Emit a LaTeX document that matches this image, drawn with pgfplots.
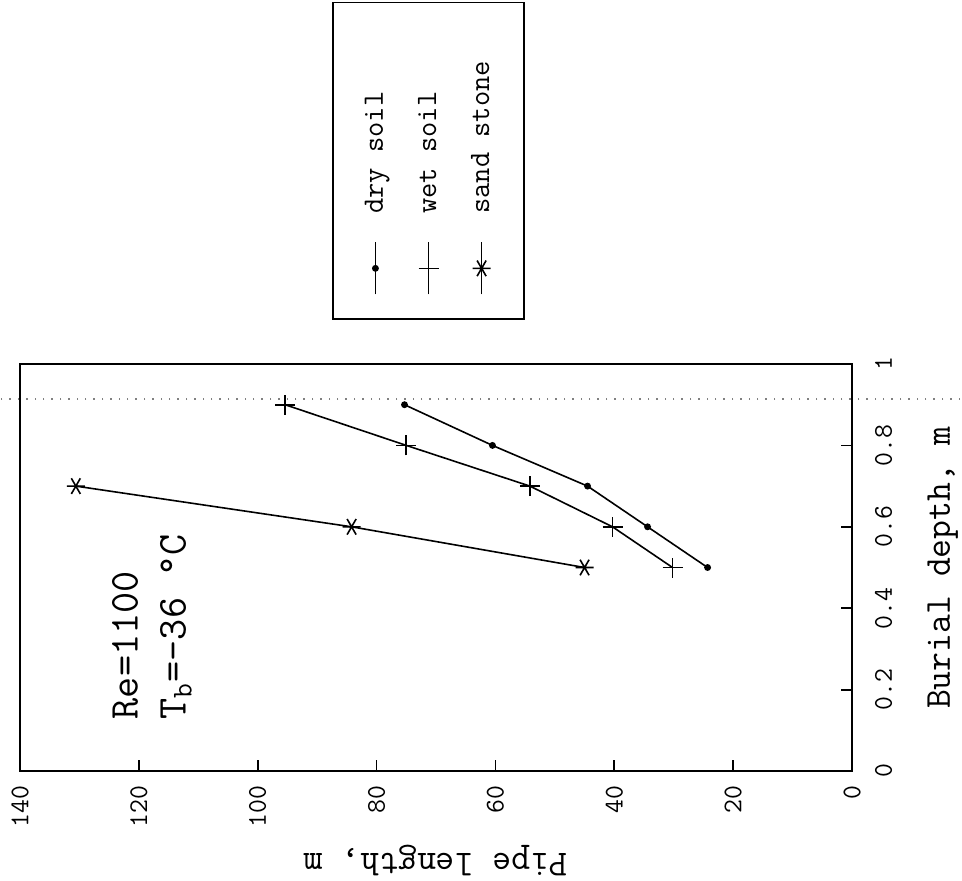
\documentclass[border=0pt]{standalone}
\usepackage{graphicx}
\usepackage{pgfplots}
\pgfplotsset{compat=1.18}
\usepackage{fontspec}
\renewcommand{\familydefault}{\ttdefault}

\begin{document}
\rotatebox{90}{%
\begin{tikzpicture}
% page frame (the figure is drawn upright, then turned a quarter turn)
\useasboundingbox (-54.5pt,-55pt) rectangle (385.5pt,426pt);
\begin{axis}[
  scale only axis, width=203.5pt, height=416pt,
  xmin=0, xmax=1, ymin=0, ymax=140,
  xtick={0,0.2,0.4,0.6,0.8,1}, xticklabels={0,0.2,0.4,0.6,0.8,1},
  ytick={0,20,...,140},
  /pgf/number format/assume math mode=true,
  tick align=inside, xtick pos=bottom, ytick pos=left,
  major tick length=5.5pt,
  axis line style={line width=1.1pt},
  every tick/.style={black, line width=0.9pt},
  tick label style={font=\ttfamily\fontsize{13.5}{15}\selectfont},
  xticklabel style={yshift=-8pt},
  yticklabel style={xshift=-4pt},
  xlabel={Burial depth, m}, ylabel={Pipe length, m},
  label style={font=\ttfamily\fontsize{18.3}{20}\selectfont},
  xlabel style={at={(axis description cs:0.5,-0.109)}, anchor=center},
  ylabel style={at={(axis description cs:-0.219,0.5)}, anchor=center},
  clip=false,
  legend cell align=left,
  legend style={draw=black, line width=0.9pt, fill=white,
    at={(1.108,0.625)}, anchor=north west,
    inner xsep=12pt, inner ysep=14pt, row sep=12pt,
    nodes={inner sep=2pt}, font=\ttfamily\fontsize{14.8}{16}\selectfont,
    /tikz/every odd column/.append style={column sep=12pt}},
  legend image code/.code={\draw[mark repeat=2,mark phase=2,#1]
    plot coordinates {(0pt,0pt) (13pt,0pt) (26pt,0pt)};},
]
\addplot[black, line width=0.8pt, mark=*, mark size=1.3pt]
  coordinates {(0.5,24.3) (0.6,34.4) (0.7,44.5) (0.8,60.5) (0.9,75.3)};
\addlegendentry{\makebox[91.5pt][l]{dry soil}}
\addplot[black, line width=0.8pt, mark=+, mark size=5pt]
  coordinates {(0.5,30.2) (0.6,40.3) (0.7,54.2) (0.8,75.0) (0.9,95.4)};
\addlegendentry{\makebox[91.5pt][l]{wet soil}}
\addplot[black, line width=0.8pt, mark=asterisk, mark size=4.5pt]
  coordinates {(0.5,45.0) (0.6,84.2) (0.7,130.6)};
\addlegendentry{\makebox[91.5pt][l]{sand stone}}

% faint fold line of the scanned page
\draw[gray, line width=0.7pt, dash pattern=on 0.7pt off 3.5pt]
  (rel axis cs:0.914,-0.14) -- (rel axis cs:0.914,1.03);

\node[anchor=west, align=left, font=\ttfamily\fontsize{20.5}{24}\selectfont]
  at (axis cs:0.11,117.8) {Re=1100\\T\textsubscript{b}=–36 °C};
\end{axis}
\end{tikzpicture}}
\end{document}
